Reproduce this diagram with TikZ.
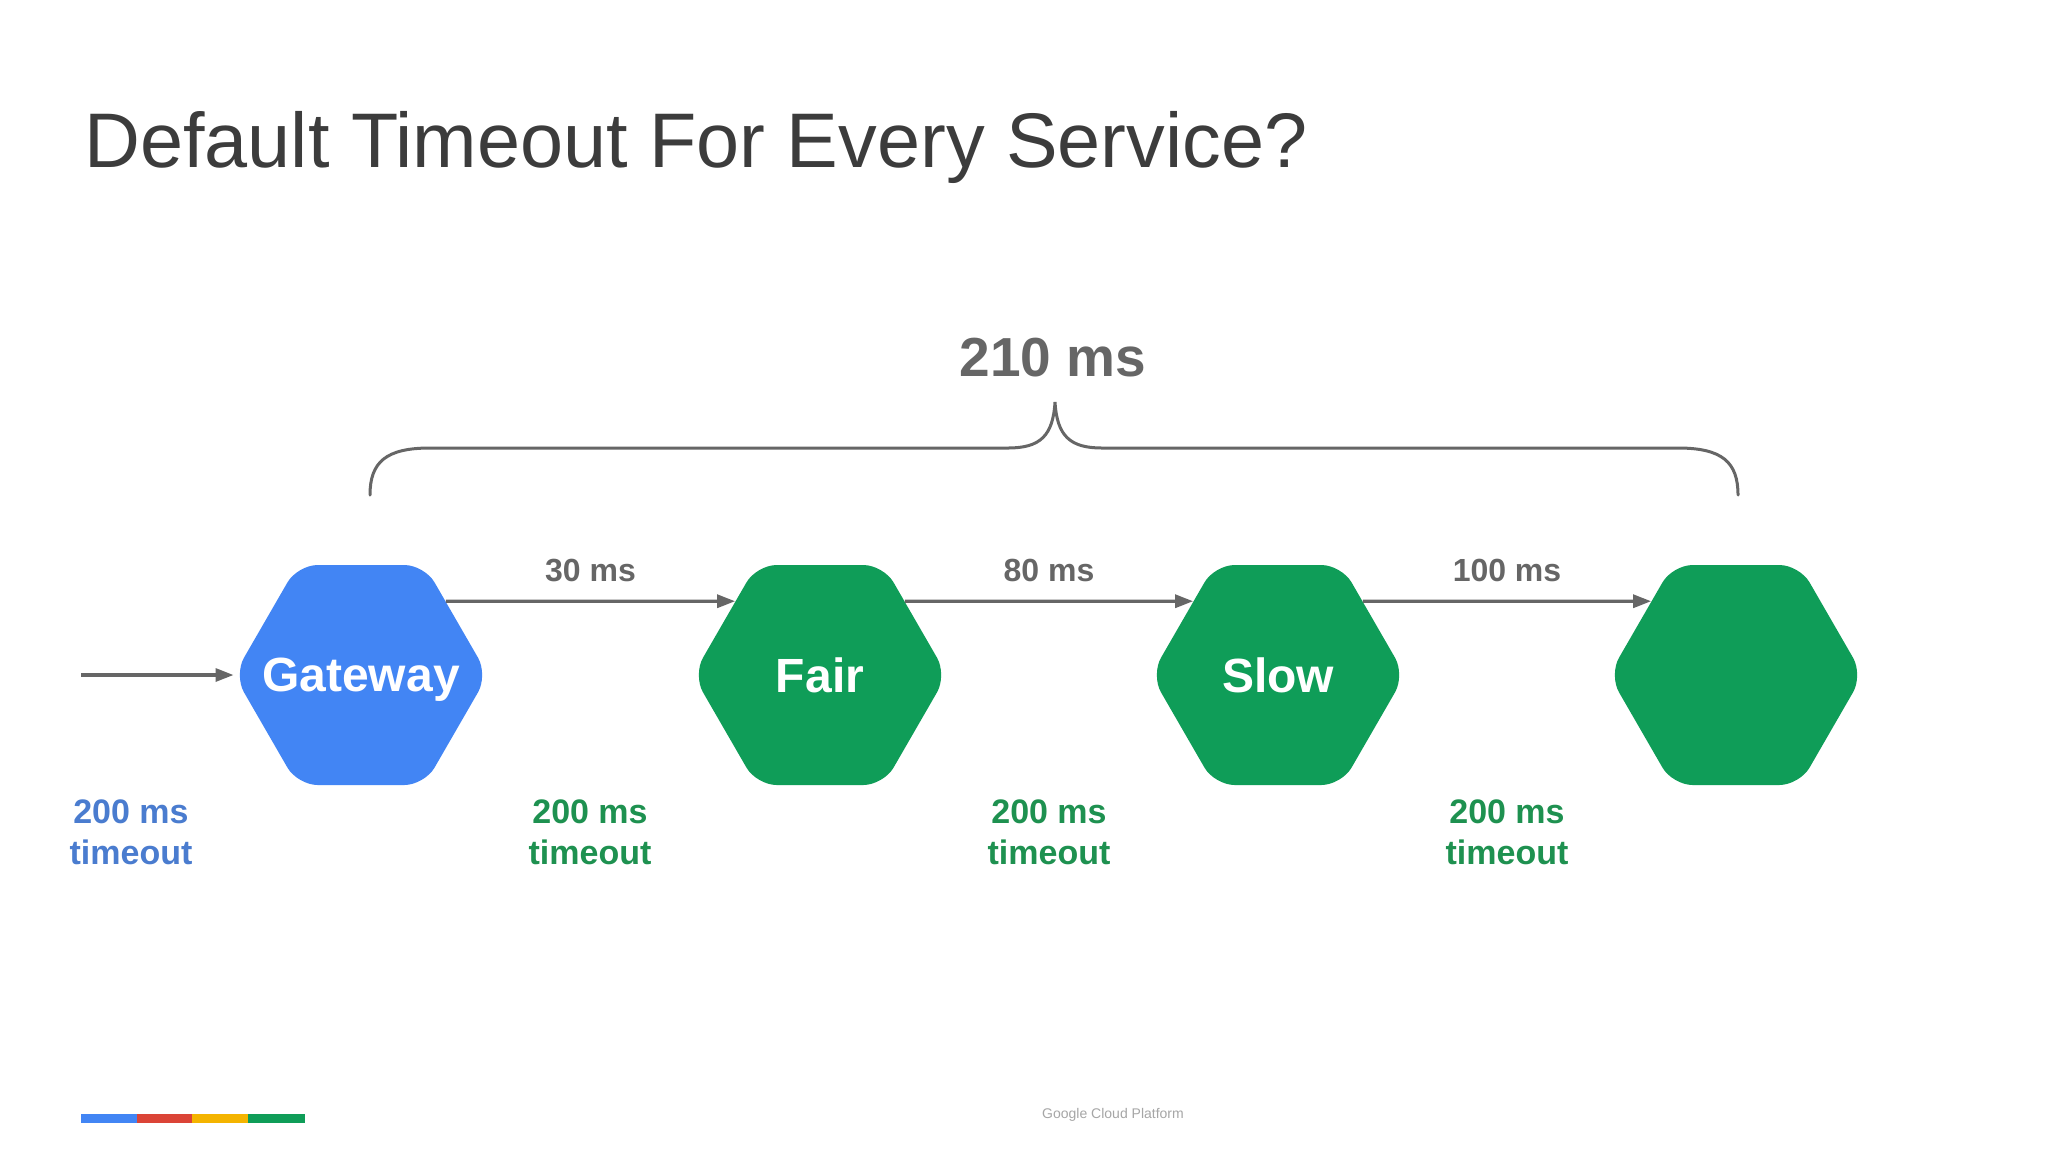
\documentclass[tikz,border=0pt]{standalone}
\usepackage{fontspec}
\setmainfont{Liberation Sans}
\usetikzlibrary{shapes.geometric,arrows.meta}
\definecolor{gblue}{HTML}{4285F4}
\definecolor{ggreen}{HTML}{0F9D58}
\definecolor{gred}{HTML}{DB4437}
\definecolor{gyellow}{HTML}{F4B400}
\definecolor{lblue}{HTML}{4A7CCF}
\definecolor{lgreen}{HTML}{1E9150}
\definecolor{agrey}{HTML}{666666}
\definecolor{tgrey}{HTML}{3C3C3C}
\tikzset{
  hexnode/.style={regular polygon, regular polygon sides=6, minimum size=127pt, inner sep=0pt,
    fill=#1, rounded corners=10pt},
  hexlabel/.style={label={[text=white, text depth=0pt, font=\fontsize{24}{28}\selectfont\bfseries]center:#1}},
  flow/.style={draw=agrey, line width=1.6pt, -{Triangle[length=9pt,width=6.5pt]}},
  mslabel/.style={text=agrey, font=\fontsize{16}{19}\selectfont\bfseries},
  tolabel/.style={font=\fontsize{17}{20.5}\selectfont\bfseries, align=center},
  barseg/.style={line width=4.5pt}
}
\begin{document}
\begin{tikzpicture}[x=0.5pt,y=-0.5pt]
\useasboundingbox[fill=white] (0,0) rectangle (2048,1152);

% title
\node[anchor=base west, inner sep=0pt, text=tgrey, font=\fontsize{38.7}{46}\selectfont] (title) at (84,167) {Default Timeout For Every Service?};

% services
\node[hexnode=gblue, hexlabel=Gateway] (G) at (361,675) {};
\node[hexnode=ggreen, hexlabel=Fair] (F) at (820,675) {};
\node[hexnode=ggreen, hexlabel=Slow] (S) at (1278,675) {};
\node[hexnode=ggreen] (D) at (1736,675) {};

% connectors
\coordinate (in) at (81,675);
\draw[flow] (in) -- (G.west);
\draw[flow] (G.41) -- (F.139) node[midway, yshift=15.5pt, mslabel] (m1) {30 ms};
\draw[flow] (F.41) -- (S.139) node[midway, yshift=15.5pt, mslabel] (m2) {80 ms};
\draw[flow] (S.41) -- (D.139) node[midway, yshift=15.5pt, mslabel] (m3) {100 ms};

% timeouts
\node[tolabel, text=lblue] (t0) at (131,832) {200 ms\\timeout};
\node[tolabel, text=lgreen] (t1) at (590,832) {200 ms\\timeout};
\node[tolabel, text=lgreen] (t2) at (1049,832) {200 ms\\timeout};
\node[tolabel, text=lgreen] (t3) at (1507,832) {200 ms\\timeout};

% brace
\draw[agrey, line width=1.5pt, line cap=round]
  (370,495) .. controls (370,462) and (386,448) .. (430,448) -- (1008,448)
  .. controls (1040,448) and (1053,436) .. (1055,402)
  .. controls (1057,436) and (1070,448) .. (1102,448) -- (1678,448)
  .. controls (1722,448) and (1738,462) .. (1738,495);
\node[text=agrey, font=\fontsize{27.5}{32}\selectfont\bfseries] (total) at (1053,358) {210 ms};

% footer
\draw[barseg, gblue] (81,1118) -- (137,1118);
\draw[barseg, gred] (137,1118) -- (192,1118);
\draw[barseg, gyellow] (192,1118) -- (248,1118);
\draw[barseg, ggreen] (248,1118) -- (305,1118);
\node[text=black!35, font=\fontsize{7}{8}\selectfont] (gcp) at (1113,1115) {Google Cloud Platform};
\end{tikzpicture}
\end{document}
